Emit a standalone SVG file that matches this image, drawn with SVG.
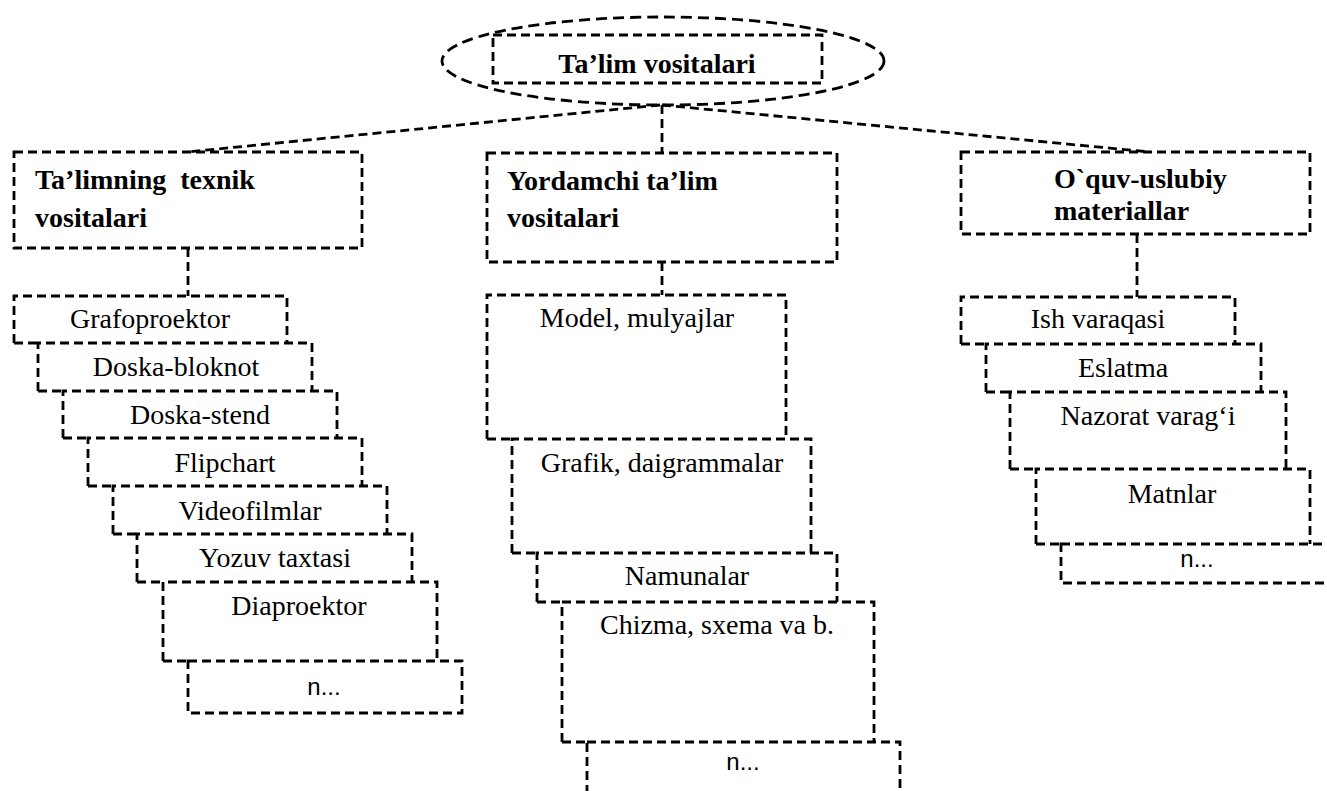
<svg xmlns="http://www.w3.org/2000/svg" width="1327" height="791" viewBox="0 0 1327 791">
<style>
.b{fill:none;stroke:#000;stroke-width:2.8;stroke-dasharray:9 5}
.e{fill:none;stroke:#000;stroke-width:2.8;stroke-dasharray:11 6}
.t{font-family:"Liberation Serif","Times New Roman",serif;font-size:28px;fill:#000;text-anchor:middle}
.h{font-family:"Liberation Serif","Times New Roman",serif;font-size:28px;font-weight:bold;fill:#000;white-space:pre}
.n{font-family:"Liberation Sans",Arial,sans-serif;font-size:24px;fill:#000;text-anchor:middle}
</style>
<rect width="1327" height="791" fill="#fff"/>
<g id="connectors">
<line class="b" x1="660" y1="105" x2="187" y2="152"/>
<line class="b" x1="662" y1="105" x2="662" y2="153"/>
<line class="b" x1="662" y1="105" x2="1150" y2="152"/>
<line class="b" x1="188" y1="248" x2="188" y2="296"/>
<line class="b" x1="662" y1="262" x2="662" y2="295"/>
<line class="b" x1="1137" y1="234" x2="1137" y2="297"/>
</g>
<g id="root">
<ellipse class="e" cx="663" cy="61" rx="221" ry="44"/>
<rect class="b" x="493" y="35" width="329" height="48"/>
<text class="h" x="657" y="73" text-anchor="middle">Ta’lim vositalari</text>
</g>
<g id="h-left">
<rect class="b" x="14" y="152" width="348" height="96"/>
<text class="h" x="35" y="189">Ta’limning  texnik</text>
<text class="h" x="35" y="227">vositalari</text>
</g>
<g id="h-mid">
<rect class="b" x="487" y="153" width="350" height="109"/>
<text class="h" x="507" y="190">Yordamchi ta’lim</text>
<text class="h" x="507" y="227">vositalari</text>
</g>
<g id="h-right">
<rect class="b" x="961" y="152" width="349" height="82"/>
<text class="h" x="1054" y="188">O`quv-uslubiy</text>
<text class="h" x="1054" y="220">materiallar</text>
</g>
<g id="l1"><path class="b" d="M14,343V296H287V343M14,343H38"/><text class="t" x="150" y="328">Grafoproektor</text></g>
<g id="l2"><path class="b" d="M38,391V343H312V391M38,391H63"/><text class="t" x="176" y="376">Doska-bloknot</text></g>
<g id="l3"><path class="b" d="M63,438V391H337V438M63,438H88"/><text class="t" x="200" y="424">Doska-stend</text></g>
<g id="l4"><path class="b" d="M88,486V438H362V486M88,486H113"/><text class="t" x="225" y="472">Flipchart</text></g>
<g id="l5"><path class="b" d="M113,534V486H387V534M113,534H137"/><text class="t" x="250" y="520">Videofilmlar</text></g>
<g id="l6"><path class="b" d="M137,582V534H412V582M137,582H163"/><text class="t" x="275" y="567">Yozuv taxtasi</text></g>
<g id="l7"><path class="b" d="M163,661V582H437V661M163,661H188"/><text class="t" x="299" y="615">Diaproektor</text></g>
<g id="l8"><rect class="b" x="188" y="661" width="274" height="52"/><text class="n" x="324" y="695">n...</text></g>
<g id="m1"><path class="b" d="M487,439V295H786V439M487,439H512"/><text class="t" x="637" y="327">Model, mulyajlar</text></g>
<g id="m2"><path class="b" d="M512,553V439H811V553M512,553H537"/><text class="t" x="662" y="472">Grafik, daigrammalar</text></g>
<g id="m3"><path class="b" d="M537,602V553H837V602M537,602H562"/><text class="t" x="687" y="585">Namunalar</text></g>
<g id="m4"><path class="b" d="M562,742V602H874V742M562,742H587"/><text class="t" x="717" y="634">Chizma, sxema va b.</text></g>
<g id="m5"><rect class="b" x="587" y="742" width="313" height="70"/><text class="n" x="743" y="770">n...</text></g>
<g id="r1"><path class="b" d="M961,344V297H1235V344M961,344H986"/><text class="t" x="1098" y="328">Ish varaqasi</text></g>
<g id="r2"><path class="b" d="M986,392V344H1261V392M986,392H1010"/><text class="t" x="1123" y="377">Eslatma</text></g>
<g id="r3"><path class="b" d="M1010,469V392H1286V469M1010,469H1036"/><text class="t" x="1148" y="425">Nazorat varag‘i</text></g>
<g id="r4"><path class="b" d="M1036,544V469H1310V544M1036,544H1061"/><text class="t" x="1172" y="503">Matnlar</text></g>
<g id="r5"><rect class="b" x="1061" y="544" width="280" height="39"/><text class="n" x="1197" y="567">n...</text></g>
</svg>
